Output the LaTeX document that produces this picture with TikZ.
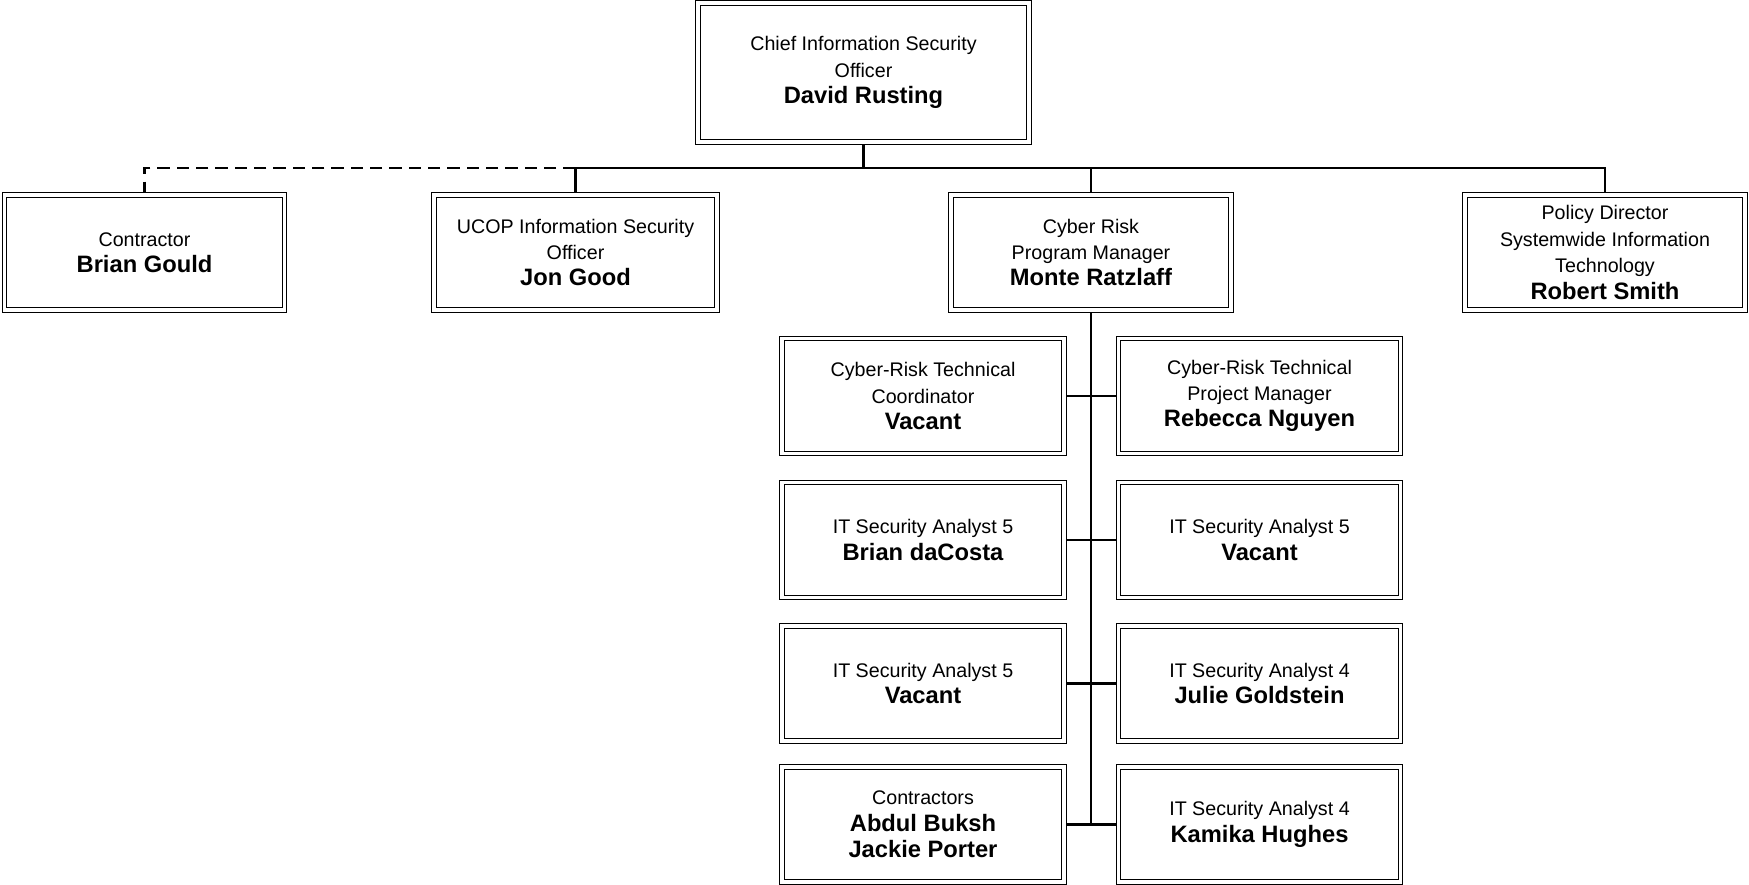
\documentclass[tikz,border=0pt]{standalone}
\usepackage{fontspec}
\setmainfont{Liberation Sans}
\usetikzlibrary{positioning,backgrounds}
\newcommand{\nm}[1]{{\fontsize{13.5}{16.5}\selectfont\bfseries #1}}

\begin{document}
\begin{tikzpicture}[x=0.02cm, y=-0.02cm,
  post/.style={rectangle, draw=black, double, double distance=1.8pt, line width=0.75pt, fill=white, align=center, inner sep=2pt, font=\fontsize{11.2}{15}\selectfont},
  toppost/.style={post, minimum width=6.62cm, minimum height=2.78cm},
  midpost/.style={post, minimum width=5.60cm, minimum height=2.30cm},
  subpost/.style={post, minimum width=5.64cm, minimum height=2.30cm},
  link/.style={draw=black, line width=1.3pt},
  dotlink/.style={link, dash pattern=on 7pt off 4pt}
]
\useasboundingbox (0,0) rectangle (1749,885);

\node[toppost] (ciso) at (863.5,72.5) {Chief Information Security\\Officer\\\nm{David Rusting}};

\node[midpost] (brian) at (144.5,252.5) {Contractor\\\nm{Brian Gould}};
\node[midpost, minimum width=5.66cm] (jon) at (575.5,252.5) {UCOP Information Security\\Officer\\\nm{Jon Good}};
\node[midpost] (monte) at (1091,252.5) {Cyber Risk\\Program Manager\\\nm{Monte Ratzlaff}};
\node[midpost] (robert) at (1605,252.5) {Policy Director\\Systemwide Information\\Technology\\\nm{Robert Smith}};

\node[subpost] (tc) at (923,396) {Cyber-Risk Technical\\Coordinator\\\nm{Vacant}};
\node[subpost] (tpm) at (1259.5,396) {Cyber-Risk Technical\\Project Manager\\\nm{Rebecca Nguyen}};
\node[subpost] (bd) at (923,540) {IT Security Analyst 5\\\nm{Brian daCosta}};
\node[subpost] (av) at (1259.5,540) {IT Security Analyst 5\\\nm{Vacant}};
\node[subpost] (v5) at (923,683.5) {IT Security Analyst 5\\\nm{Vacant}};
\node[subpost] (jg) at (1259.5,683.5) {IT Security Analyst 4\\\nm{Julie Goldstein}};
\node[subpost] (con) at (923,824.5) {Contractors\\\nm{Abdul Buksh}\\\nm{Jackie Porter}};
\node[subpost] (kh) at (1259.5,824.5) {IT Security Analyst 4\\\nm{Kamika Hughes}};

\coordinate (bus) at (863.5,168);

\begin{scope}[on background layer]
\draw[link] (ciso) -- (bus);
\draw[dotlink] (jon.north |- bus) -| (brian.north);
\draw[link] (jon.north) |- (bus) -| (robert.north);
\draw[link] (bus) -| (monte.north);
\draw[link] (monte.south) -- (monte.south |- con.east);
\foreach \a/\b in {tc/tpm, bd/av, v5/jg, con/kh}
  \draw[link] (\a.east) -- (\b.west);
\end{scope}
\end{tikzpicture}
\end{document}
